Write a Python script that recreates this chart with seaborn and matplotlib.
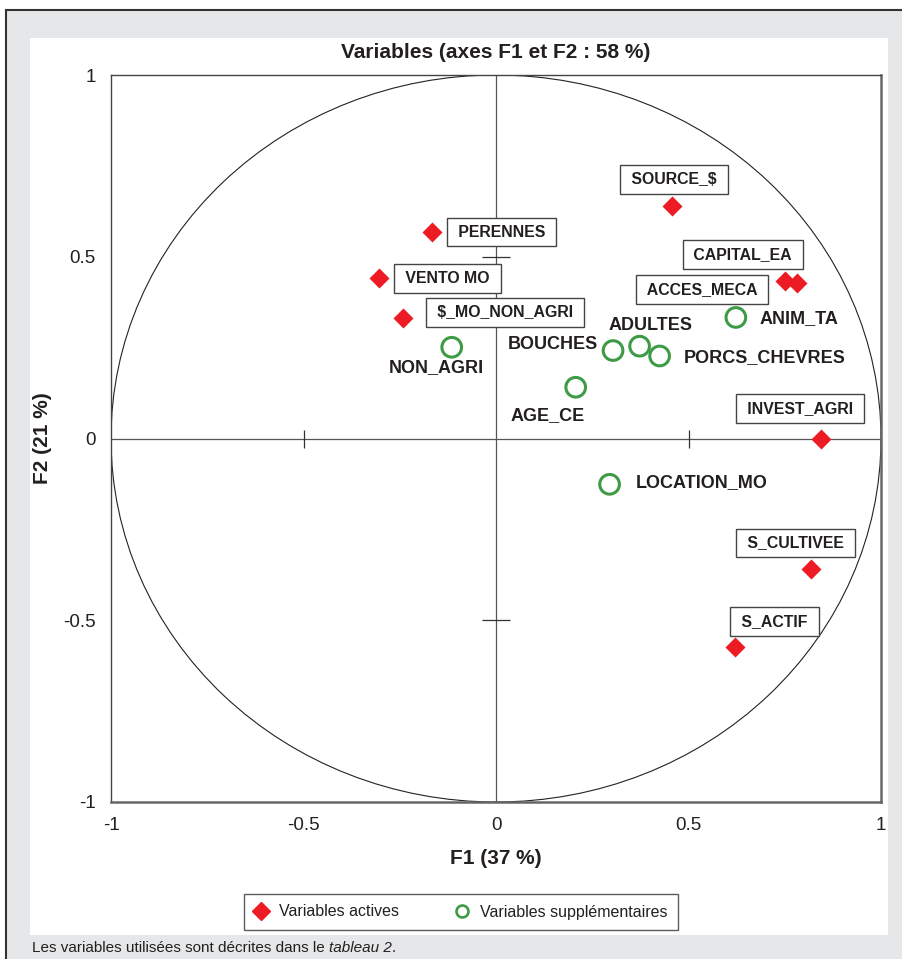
import matplotlib
matplotlib.use("Agg")
import pandas as pd
import matplotlib.pyplot as plt
from matplotlib.patches import Circle, Rectangle
from matplotlib.lines import Line2D
import seaborn as sns

sns.set_theme(style="white")
plt.rcParams["font.family"] = ["Liberation Sans", "DejaVu Sans"]
plt.rcParams["axes.unicode_minus"] = False

# variables actives (losanges rouges)
active_names = ["SOURCE_$", "CAPITAL_EA", "ACCES_MECA", "PERENNES", "VENTO MO",
                "$_MO_NON_AGRI", "INVEST_AGRI", "S_CULTIVEE", "S_ACTIF"]
active_f1 = [0.456, 0.781, 0.750, -0.165, -0.303, -0.241, 0.844, 0.817, 0.622]
active_f2 = [0.640, 0.428, 0.433, 0.568, 0.441, 0.332, 0.000, -0.359, -0.573]

# variables supplementaires (cercles verts)
supp_names = ["NON_AGRI", "BOUCHES", "ADULTES", "PORCS_CHEVRES", "ANIM_TA",
              "AGE_CE", "LOCATION_MO"]
supp_f1 = [-0.115, 0.304, 0.373, 0.425, 0.623, 0.207, 0.295]
supp_f2 = [0.251, 0.242, 0.254, 0.227, 0.333, 0.141, -0.126]

axis_ticks = [-1, -0.5, 0, 0.5, 1]
axis_ticklabels = ["-1", "-0.5", "0", "0.5", "1"]

# label offsets in pixels (dx, dy), relative to each point
active_offsets = {"SOURCE_$": (2, 26), "CAPITAL_EA": (-54, 28), "ACCES_MECA": (-83, -8),
                  "PERENNES": (69, 0), "VENTO MO": (68, 0), "$_MO_NON_AGRI": (102, 5),
                  "INVEST_AGRI": (-21, 30), "S_CULTIVEE": (-15, 26), "S_ACTIF": (39, 25)}
supp_offsets = {"NON_AGRI": (-15, -20), "BOUCHES": (-60, 6), "ADULTES": (11, 21),
                "PORCS_CHEVRES": (105, -2), "ANIM_TA": (63, -1), "AGE_CE": (-28, -28),
                "LOCATION_MO": (92, 2)}

RED = "#ed1c24"
GREEN = "#3d9b45"
INK = "#231f20"
GREY_BG = "#e6e7e8"

df_act = pd.DataFrame({"F1": active_f1, "F2": active_f2, "nom": active_names})
df_sup = pd.DataFrame({"F1": supp_f1, "F2": supp_f2, "nom": supp_names})

W, H = 902, 959
fig = plt.figure(figsize=(W / 100, H / 100), dpi=100)
fig.patch.set_facecolor("white")


def fx(px):
    return px / W


def fy(py):
    return 1 - py / H


# grey frame + white panel
fig.add_artist(Rectangle((fx(6), -0.02), 1.0, fy(10) + 0.02, transform=fig.transFigure,
                         fc=GREY_BG, ec="#333333", lw=1.5, zorder=-3))
fig.add_artist(Rectangle((fx(30), fy(935)), fx(888) - fx(30), fy(38) - fy(935),
                         transform=fig.transFigure, fc="white", ec="none", zorder=-2))

ax = fig.add_axes([fx(111), fy(802), fx(881) - fx(111), fy(75) - fy(802)])
ax.set_facecolor("white")

ax.axhline(0, color="#555555", lw=0.9, zorder=1)
ax.axvline(0, color="#555555", lw=0.9, zorder=1)
ax.add_patch(Circle((0, 0), 1, fill=False, ec="#222222", lw=0.8, zorder=1))
ax.plot([-0.5, 0.5], [0, 0], ls="none", marker="|", ms=12.5, mew=0.9, color="#333333")
ax.plot([0, 0], [-0.5, 0.5], ls="none", marker="_", ms=19.5, mew=0.9, color="#333333")

sns.scatterplot(data=df_act, x="F1", y="F2", marker="D", color=RED, s=104,
                linewidth=0, ax=ax, zorder=4)
sns.scatterplot(data=df_sup, x="F1", y="F2", marker="o", color="none", edgecolor=GREEN,
                linewidth=2.2, s=200, ax=ax, zorder=4)

for _, r in df_act.iterrows():
    ax.annotate(" " + r["nom"] + " ", (r["F1"], r["F2"]), xytext=active_offsets[r["nom"]],
                textcoords="offset pixels", ha="center", va="center",
                fontsize=11.4, fontweight="bold", color=INK, zorder=5,
                bbox=dict(boxstyle="square,pad=0.44", fc="white", ec="#444444", lw=1))

for _, r in df_sup.iterrows():
    ax.annotate(r["nom"], (r["F1"], r["F2"]), xytext=supp_offsets[r["nom"]],
                textcoords="offset pixels", ha="center", va="center",
                fontsize=13, fontweight="bold", color=INK, zorder=5)

ax.set_xlim(-1, 1)
ax.set_ylim(-1, 1)
ax.set_xticks(axis_ticks, axis_ticklabels)
ax.set_yticks(axis_ticks, axis_ticklabels)
ax.tick_params(length=0, pad=11, labelsize=13.5, colors=INK)

for side in ["top", "left"]:
    ax.spines[side].set_color("#444444")
    ax.spines[side].set_linewidth(1.0)
for side in ["right", "bottom"]:
    ax.spines[side].set_color("#666666")
    ax.spines[side].set_linewidth(1.8)

ax.set_title("Variables (axes F1 et F2 : 58 %)", fontsize=15, fontweight="bold",
             color=INK, pad=12.6)
ax.set_xlabel("F1 (37 %)", fontsize=15, fontweight="bold", color=INK)
ax.set_ylabel("F2 (21 %)", fontsize=15, fontweight="bold", color=INK)
ax.xaxis.set_label_coords(0.5, -0.064)
ax.yaxis.set_label_coords(-0.076, 0.5)

handles = [Line2D([], [], marker="D", color=RED, ls="none", ms=9),
           Line2D([], [], marker="o", color=GREEN, mfc="none", ls="none", ms=8.6, mew=1.9)]
leg = fig.legend(handles, ["Variables actives", "Variables supplémentaires"],
                 loc="center", bbox_to_anchor=(fx(461), fy(912)), ncol=2,
                 frameon=True, fancybox=False, edgecolor="#333333", fontsize=11.5,
                 borderpad=0.65, handlelength=0.8, handletextpad=0.72, columnspacing=3.55)
leg.get_frame().set_linewidth(1.0)
for t in leg.get_texts():
    t.set_color(INK)

# footnote with italic reference
t1 = fig.text(fx(32), fy(948), "Les variables utilisées sont décrites dans le ",
              fontsize=11, color=INK, va="center", ha="left")
t2 = ax.annotate("tableau 2", xy=(1, 0), xycoords=t1, va="bottom", ha="left",
                 fontsize=11, color=INK, style="italic", annotation_clip=False)
ax.annotate(".", xy=(1, 0), xycoords=t2, va="bottom", ha="left",
            fontsize=11, color=INK, annotation_clip=False)

fig.savefig("out.png", dpi=100)
